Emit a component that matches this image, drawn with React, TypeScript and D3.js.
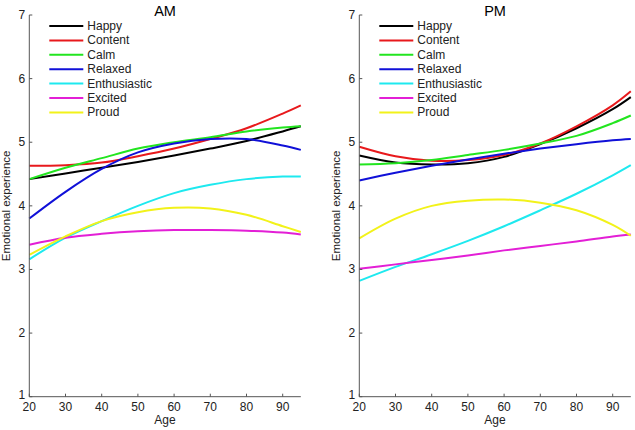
import React from "react";
import * as d3 from "d3";

const ages = [20, 30, 40, 50, 60, 70, 80, 90, 95];
const emotions = ["Happy", "Content", "Calm", "Relaxed", "Enthusiastic", "Excited", "Proud"];
const colors = ["#000000", "#e8191c", "#22e51f", "#1010d8", "#1ee9ef", "#e31fd6", "#f2f21a"];

const amHappy = [4.42, 4.51, 4.6, 4.69, 4.79, 4.9, 5.02, 5.17, 5.25];
const amContent = [4.63, 4.64, 4.68, 4.78, 4.9, 5.05, 5.22, 5.45, 5.58];
const amCalm = [4.42, 4.6, 4.75, 4.9, 5.0, 5.08, 5.17, 5.23, 5.25];
const amRelaxed = [3.8, 4.22, 4.58, 4.84, 4.98, 5.05, 5.05, 4.95, 4.88];
const amEnthusiastic = [3.16, 3.5, 3.76, 4.0, 4.2, 4.33, 4.42, 4.46, 4.46];
const amExcited = [3.39, 3.5, 3.56, 3.6, 3.62, 3.62, 3.61, 3.58, 3.55];
const amProud = [3.23, 3.52, 3.76, 3.9, 3.97, 3.96, 3.86, 3.68, 3.59];

const pmHappy = [4.79, 4.68, 4.65, 4.67, 4.77, 4.97, 5.22, 5.52, 5.71];
const pmContent = [4.93, 4.78, 4.71, 4.72, 4.8, 4.98, 5.25, 5.58, 5.8];
const pmCalm = [4.65, 4.67, 4.72, 4.8, 4.88, 4.98, 5.1, 5.3, 5.42];
const pmRelaxed = [4.4, 4.52, 4.63, 4.73, 4.82, 4.9, 4.97, 5.03, 5.05];
const pmEnthusiastic = [2.82, 3.04, 3.24, 3.45, 3.68, 3.93, 4.19, 4.48, 4.64];
const pmExcited = [3.01, 3.08, 3.15, 3.22, 3.3, 3.37, 3.44, 3.52, 3.55];
const pmProud = [3.49, 3.8, 4.0, 4.08, 4.1, 4.05, 3.93, 3.7, 3.53];

const xTicks = [20, 30, 40, 50, 60, 70, 80, 90];
const yTicks = [1, 2, 3, 4, 5, 6, 7];

const panels = [
  { title: "AM", left: 29.3, series: [amHappy, amContent, amCalm, amRelaxed, amEnthusiastic, amExcited, amProud] },
  { title: "PM", left: 359.3, series: [pmHappy, pmContent, pmCalm, pmRelaxed, pmEnthusiastic, pmExcited, pmProud] },
];

const FONT = "'Liberation Sans', Arial, Helvetica, sans-serif";

function Panel({ p }: { p: any }) {
  const x = d3.scaleLinear().domain([20, 95]).range([p.left, p.left + 271.5]);
  const y = d3.scaleLinear().domain([1, 7]).range([396.7, 15]);
  const line = d3
    .line<number>()
    .x((_, i) => x(ages[i]))
    .y((d) => y(d))
    .curve(d3.curveCatmullRom.alpha(0.5));
  const axisColor = "#555";
  const [x0, x1] = x.range();
  const [y0, y1] = y.range();
  return (
    <g>
      {p.series.map((s: number[], i: number) => (
        <path key={i} d={line(s) || ""} fill="none" stroke={colors[i]} strokeWidth={2} />
      ))}
      <line x1={x0} x2={x1} y1={y0} y2={y0} stroke={axisColor} strokeWidth={1} />
      <line x1={x0} x2={x0} y1={y0} y2={y1} stroke={axisColor} strokeWidth={1} />
      {xTicks.map((t) => (
        <g key={t}>
          <line x1={x(t)} x2={x(t)} y1={y0} y2={y0 - 3} stroke={axisColor} />
          <text x={x(t)} y={y0 + 14.5} textAnchor="middle" fontSize={12} fontFamily={FONT} fill="#222">
            {t}
          </text>
        </g>
      ))}
      {yTicks.map((t) => (
        <g key={t}>
          <line x1={x0} x2={x0 + 3} y1={y(t)} y2={y(t)} stroke={axisColor} />
          <text x={x0 - 4} y={y(t) + (t === 1 ? 2.5 : 4)} textAnchor="end" fontSize={12} fontFamily={FONT} fill="#222">
            {t}
          </text>
        </g>
      ))}
      <text x={(x0 + x1) / 2} y={15.5} textAnchor="middle" fontSize={14.5} fontFamily={FONT} fill="#000">
        {p.title}
      </text>
      <text x={(x0 + x1) / 2} y={424} textAnchor="middle" fontSize={12} fontFamily={FONT} fill="#222">
        Age
      </text>
      <text
        transform={`translate(${x0 - 19},${(y0 + y1) / 2}) rotate(-90)`}
        textAnchor="middle"
        fontSize={11.5}
        fontFamily={FONT}
        fill="#222"
      >
        Emotional experience
      </text>
      {emotions.map((e, i) => {
        const ly = 26 + i * 14.4;
        return (
          <g key={e}>
            <line x1={x0 + 20} x2={x0 + 54} y1={ly} y2={ly} stroke={colors[i]} strokeWidth={2} />
            <text x={x0 + 58} y={ly + 4} fontSize={12} fontFamily={FONT} fill="#222">
              {e}
            </text>
          </g>
        );
      })}
    </g>
  );
}

export default function App() {
  return (
    <svg width={635} height={430} style={{ position: "absolute", left: 0, top: 0, background: "#fff" }}>
      {panels.map((p) => (
        <Panel key={p.title} p={p} />
      ))}
    </svg>
  );
}
